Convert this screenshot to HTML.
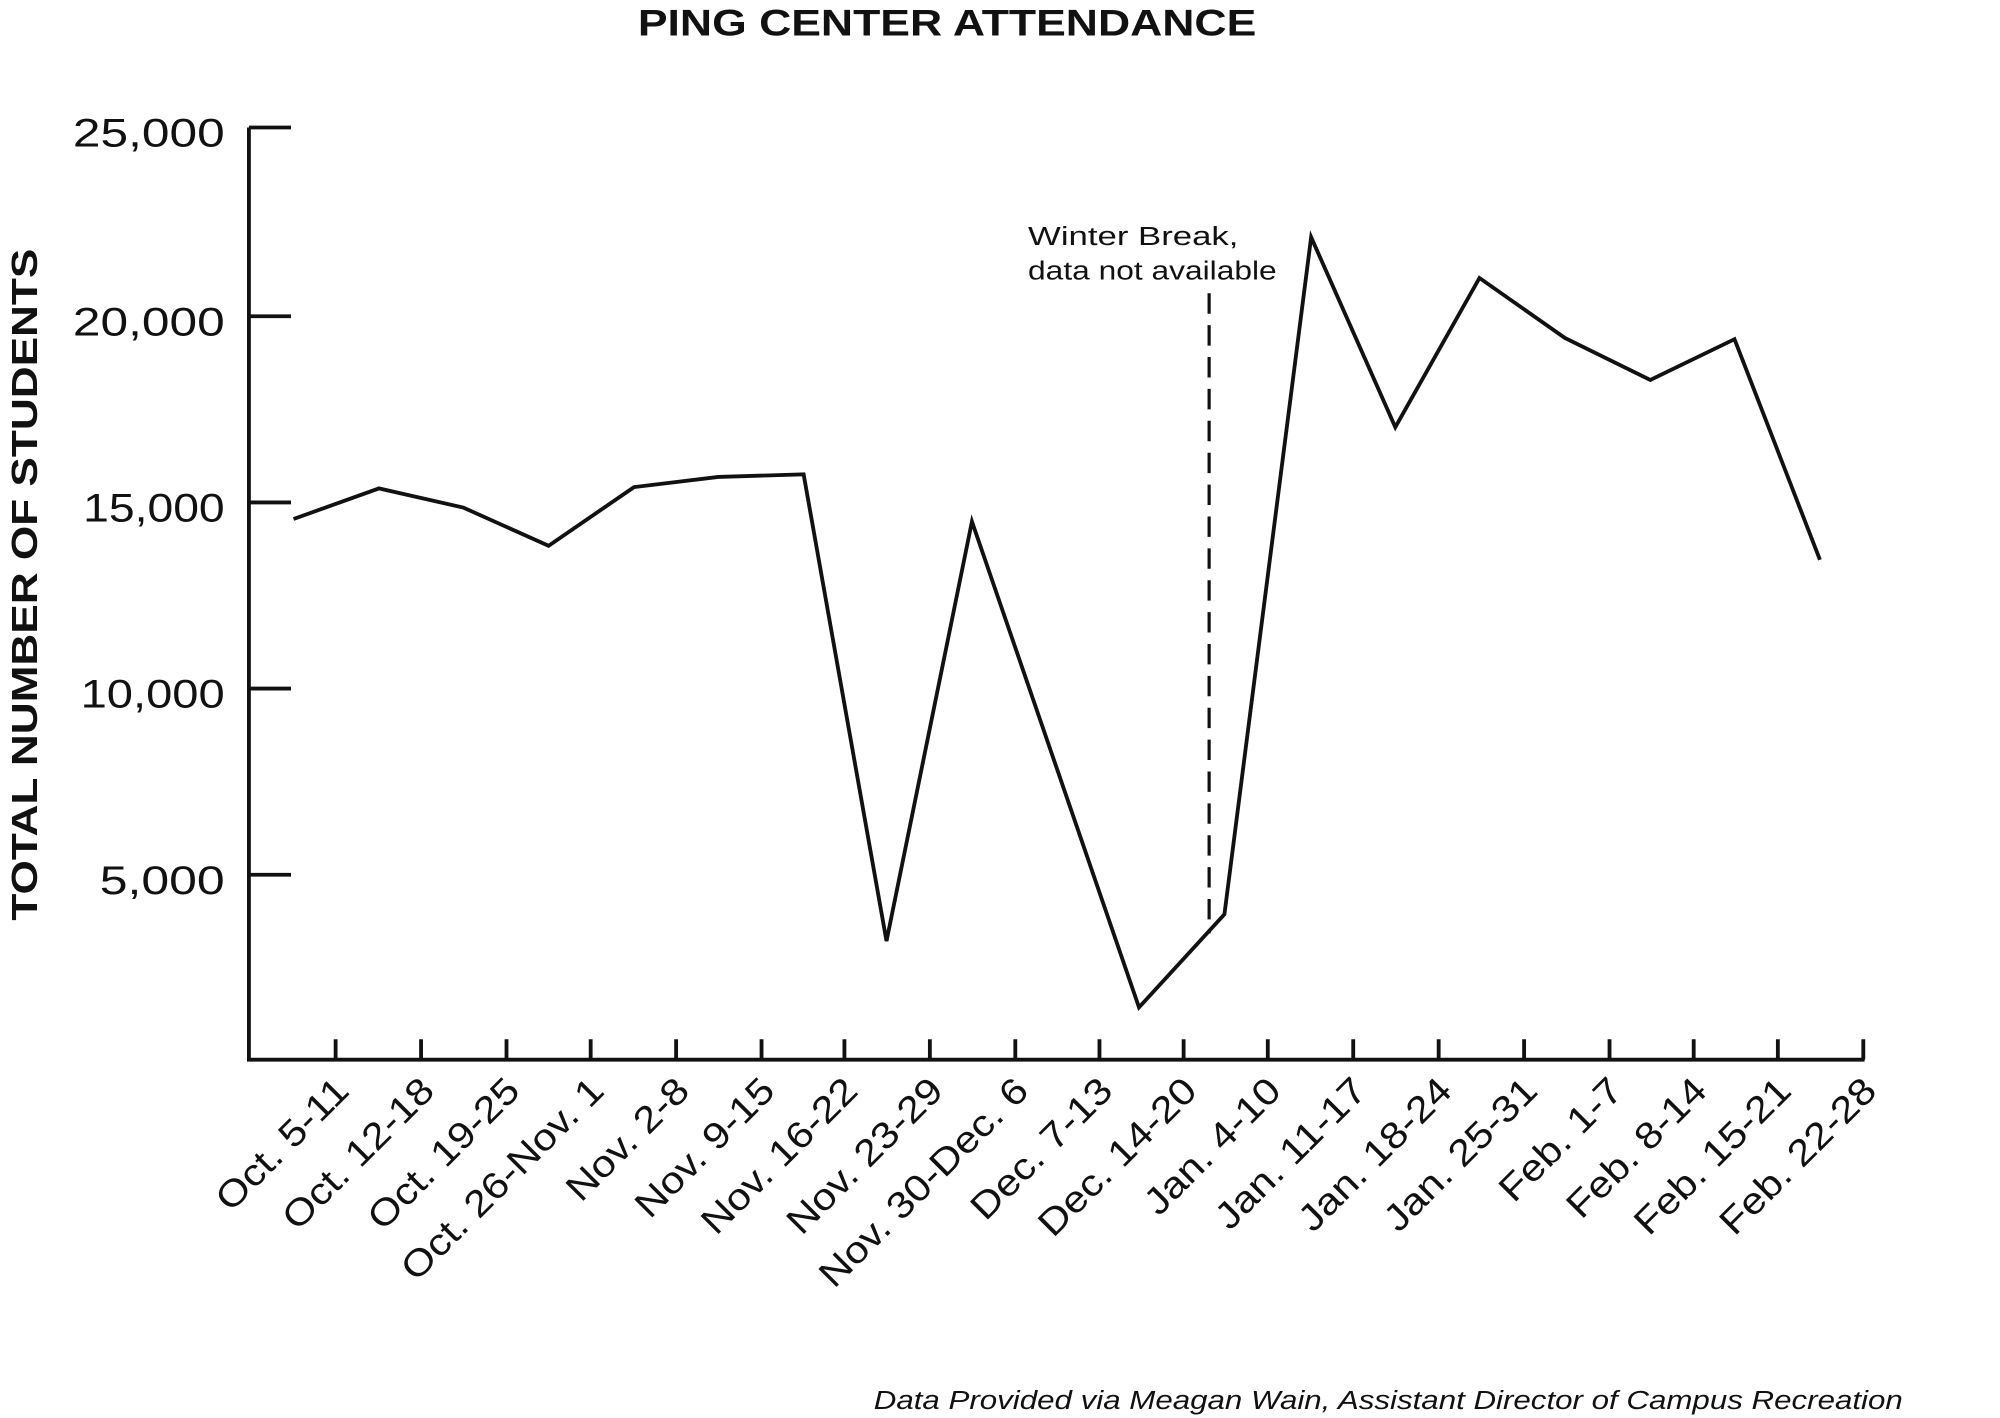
<!DOCTYPE html>
<html><head><style>
html,body{margin:0;padding:0;background:#fff;}
svg{display:block;}
text{font-family:"Liberation Sans",sans-serif;fill:#111;}
</style></head><body>
<svg width="2000" height="1418" viewBox="0 0 1568 1112" xmlns="http://www.w3.org/2000/svg">
<rect width="1568" height="1112" fill="#fff"/>
<text x="500" y="28" font-size="29" font-weight="bold" textLength="485" lengthAdjust="spacingAndGlyphs">PING CENTER ATTENDANCE</text>
<text transform="translate(29,722) rotate(-90)" font-size="28" font-weight="bold" textLength="527" lengthAdjust="spacingAndGlyphs">TOTAL NUMBER OF STUDENTS</text>
<g stroke="#111" stroke-width="3" fill="none">
<path d="M195,100 V831 H1462"/>
<path d="M195,100 H228 M195,248 H228 M195,394 H228 M195,540 H228 M195,686 H228"/>
<path d="M263,831v-16 M330,831v-16 M397,831v-16 M463,831v-16 M530,831v-16 M597,831v-16 M662,831v-16 M729,831v-16 M796,831v-16 M862,831v-16 M928,831v-16 M994,831v-16 M1061,831v-16 M1128,831v-16 M1195,831v-16 M1262,831v-16 M1328,831v-16 M1394,831v-16 M1461,831v-16"/>
<polyline stroke-linejoin="miter" points="230,407 297,383 363,398 430,428 497,382 563,374 630,372 695,738 762,409 893,790 960,717 1028,186 1094,335 1160,218 1227,265 1294,298 1360,266 1427,439"/>
<path d="M948,230 V732" stroke-dasharray="16,9" stroke-width="2.5"/>
</g>
<g font-size="31">
<text x="57" y="115" textLength="119" lengthAdjust="spacingAndGlyphs">25,000</text>
<text x="57" y="263" textLength="119" lengthAdjust="spacingAndGlyphs">20,000</text>
<text x="65" y="409" textLength="111" lengthAdjust="spacingAndGlyphs">15,000</text>
<text x="63" y="555" textLength="113" lengthAdjust="spacingAndGlyphs">10,000</text>
<text x="78" y="701" textLength="98" lengthAdjust="spacingAndGlyphs">5,000</text>
</g>
<text x="806" y="192" font-size="20" textLength="165" lengthAdjust="spacingAndGlyphs">Winter Break,</text>
<text x="806" y="219" font-size="20" textLength="195" lengthAdjust="spacingAndGlyphs">data not available</text>
<g font-size="29" text-anchor="end">
<text transform="translate(275,857) rotate(-45) scale(1.14,1)">Oct. 5-11</text>
<text transform="translate(342,857) rotate(-45) scale(1.14,1)">Oct. 12-18</text>
<text transform="translate(409,857) rotate(-45) scale(1.14,1)">Oct. 19-25</text>
<text transform="translate(475,857) rotate(-45) scale(1.14,1)">Oct. 26-Nov. 1</text>
<text transform="translate(542,857) rotate(-45) scale(1.14,1)">Nov. 2-8</text>
<text transform="translate(609,857) rotate(-45) scale(1.14,1)">Nov. 9-15</text>
<text transform="translate(674,857) rotate(-45) scale(1.14,1)">Nov. 16-22</text>
<text transform="translate(741,857) rotate(-45) scale(1.14,1)">Nov. 23-29</text>
<text transform="translate(808,857) rotate(-45) scale(1.14,1)">Nov. 30-Dec. 6</text>
<text transform="translate(874,857) rotate(-45) scale(1.14,1)">Dec. 7-13</text>
<text transform="translate(940,857) rotate(-45) scale(1.14,1)">Dec. 14-20</text>
<text transform="translate(1006,857) rotate(-45) scale(1.14,1)">Jan. 4-10</text>
<text transform="translate(1073,857) rotate(-45) scale(1.14,1)">Jan. 11-17</text>
<text transform="translate(1140,857) rotate(-45) scale(1.14,1)">Jan. 18-24</text>
<text transform="translate(1207,857) rotate(-45) scale(1.14,1)">Jan. 25-31</text>
<text transform="translate(1274,857) rotate(-45) scale(1.14,1)">Feb. 1-7</text>
<text transform="translate(1340,857) rotate(-45) scale(1.14,1)">Feb. 8-14</text>
<text transform="translate(1406,857) rotate(-45) scale(1.14,1)">Feb. 15-21</text>
<text transform="translate(1473,857) rotate(-45) scale(1.14,1)">Feb. 22-28</text>
</g>
<text x="685" y="1105" font-size="20" font-style="italic" textLength="807" lengthAdjust="spacingAndGlyphs">Data Provided via Meagan Wain, Assistant Director of Campus Recreation</text>
</svg>
</body></html>
